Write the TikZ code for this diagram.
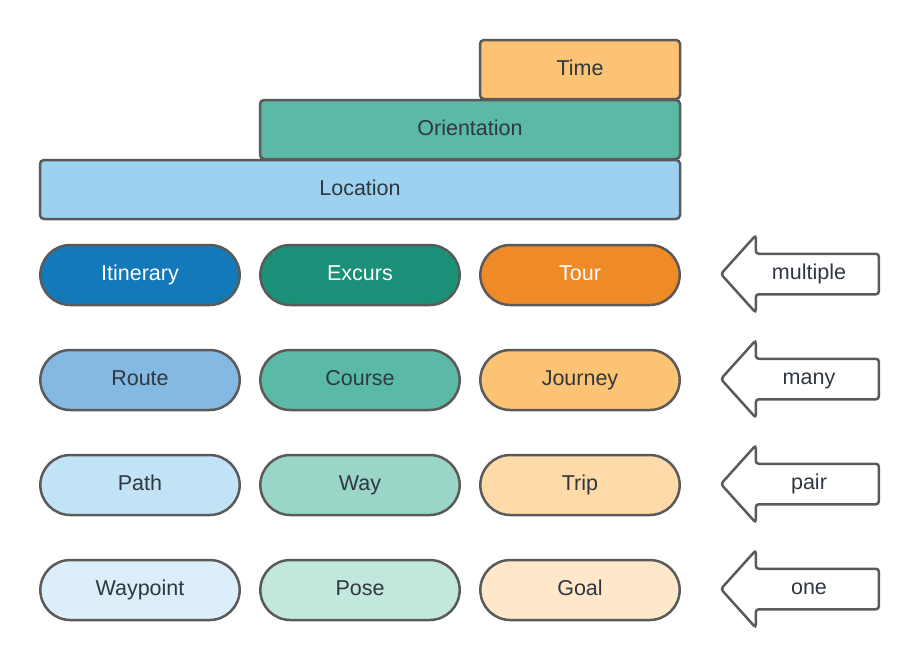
\documentclass[tikz,border=0pt]{standalone}
\usepackage{fontspec}
\setmainfont{Liberation Sans}
\usetikzlibrary{shapes.misc, shapes.arrows}
\definecolor{edge}{HTML}{5A5A5A}
\definecolor{ink}{HTML}{2F3740}
\definecolor{timec}{HTML}{FCC374}
\definecolor{orientc}{HTML}{5BBAA5}
\definecolor{locc}{HTML}{9CD2F0}
\definecolor{bluei}{HTML}{1479B8}
\definecolor{blueii}{HTML}{84B9E2}
\definecolor{blueiii}{HTML}{C2E3F5}
\definecolor{blueiv}{HTML}{DCEEF9}
\definecolor{teali}{HTML}{1A9078}
\definecolor{tealii}{HTML}{5BBAA5}
\definecolor{tealiii}{HTML}{9AD6C7}
\definecolor{tealiv}{HTML}{C2E7DD}
\definecolor{orangei}{HTML}{EE8B26}
\definecolor{orangeii}{HTML}{FCC374}
\definecolor{orangeiii}{HTML}{FDDAA8}
\definecolor{orangeiv}{HTML}{FEE8C9}
\tikzset{
  lbl/.style={font=\fontsize{21.5}{25}\selectfont, text=ink, text height=16pt, text depth=4.5pt},
  bar/.style={lbl, draw=edge, line width=2.5pt, rectangle, rounded corners=4pt, minimum height=59pt},
  pill/.style={lbl, draw=edge, line width=2.5pt, rounded rectangle, minimum width=206pt, minimum height=60pt},
  count/.style={lbl, draw=edge, line width=2.5pt, single arrow, shape border rotate=180,
    fill=white, rounded corners=3pt, inner ysep=8.75pt, inner xsep=4pt, minimum height=158pt,
    single arrow head extend=18.5pt, single arrow tip angle=96}
}
\begin{document}
\begin{tikzpicture}[x=1pt, y=-1pt]
\useasboundingbox (0,0) rectangle (920,670);
% stacked context bars
\node[bar, fill=timec, minimum width=200pt] (time) at (580,69.5) {Time};
\node[bar, fill=orientc, minimum width=420pt] (orient) at (470,129.5) {Orientation};
\node[bar, fill=locc, minimum width=640pt] (loc) at (360,189.5) {Location};
% pills, one row per level
\node[pill, fill=bluei, text=white] (itin) at (140,275) {Itinerary};
\node[pill, fill=teali, text=white] (excurs) at (360,275) {Excurs};
\node[pill, fill=orangei, text=white] (tour) at (580,275) {Tour};
\node[pill, fill=blueii] (route) at (140,380) {Route};
\node[pill, fill=tealii] (course) at (360,380) {Course};
\node[pill, fill=orangeii] (journey) at (580,380) {Journey};
\node[pill, fill=blueiii] (path) at (140,485) {Path};
\node[pill, fill=tealiii] (way) at (360,485) {Way};
\node[pill, fill=orangeiii] (trip) at (580,485) {Trip};
\node[pill, fill=blueiv] (wpt) at (140,590) {Waypoint};
\node[pill, fill=tealiv] (pose) at (360,590) {Pose};
\node[pill, fill=orangeiv] (goal) at (580,590) {Goal};
% cardinality arrows
\node[count] (multiple) at (809,274) {multiple};
\node[count] (many) at (809,379) {many};
\node[count] (pair) at (809,484) {pair};
\node[count] (one) at (809,589) {one};
\end{tikzpicture}
\end{document}
